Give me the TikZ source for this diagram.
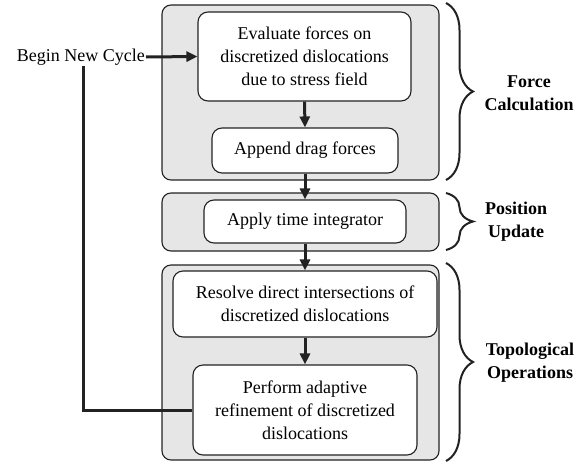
\documentclass[tikz,border=0pt]{standalone}
\usepackage{fontspec}
\setmainfont{Liberation Serif}
\usetikzlibrary{arrows.meta,decorations.pathreplacing}
\definecolor{groupfill}{HTML}{E6E6E7}
\definecolor{edge}{HTML}{222222}
\begin{document}
\begin{tikzpicture}[x=1pt,y=-1pt,
  every node/.style={font=\fontsize{18}{23}\selectfont},
  group/.style={draw=edge,fill=groupfill,line width=1.1pt,rounded corners=9pt,
    inner sep=0pt,minimum width=277pt},
  stepbox/.style={draw=edge,fill=white,line width=1.1pt,rounded corners=10pt,
    align=center,inner sep=0pt},
  flow/.style={draw=edge,line width=3pt,-{Triangle[length=11pt,width=10pt]}},
  loopline/.style={draw=edge,line width=3pt},
  stage/.style={font=\fontsize{18}{23}\selectfont\bfseries,align=center},
  bracket/.style={draw=edge,line width=2pt,decorate,
    decoration={brace,amplitude=27pt,aspect=0.5}}]
\useasboundingbox (0,0) rectangle (585,463);

% stage backgrounds
\node[group,minimum height=175pt] (g1) at (300.5,92.5) {};
\node[group,minimum height=58pt] (g2) at (300.5,222) {};
\node[group,minimum height=195pt] (g3) at (300.5,362.5) {};

% steps
\node[stepbox,minimum width=213pt,minimum height=89pt] (b1) at (304.5,56.5)
  {Evaluate forces on\\discretized dislocations\\due to stress field};
\node[stepbox,minimum width=186pt,minimum height=45pt] (b2) at (305,150.5)
  {Append drag forces};
\node[stepbox,minimum width=202pt,minimum height=43pt] (b3) at (305,221.5)
  {Apply time integrator};
\node[stepbox,minimum width=264pt,minimum height=66pt] (b4) at (305,304)
  {Resolve direct intersections of\\discretized dislocations};
\node[stepbox,minimum width=224pt,minimum height=90pt] (b5) at (305,410)
  {Perform adaptive\\refinement of discretized\\dislocations};

% entry point and loop back
\node[anchor=east,inner sep=1pt] (begin) at (146,57) {Begin New Cycle};
\coordinate (loop) at (83,66);
\draw[flow] (begin.east) -- (b1.west);
\draw[loopline] (loop) -- (loop |- b5.west) -- (b5.west);

% flow between steps
\draw[flow] (b1.south) -- (b2.north);
\draw[flow] (b2.south) -- (b3.north);
\draw[flow] (b3.south) -- (b4.north);
\draw[flow] (b4.south) -- (b5.north);

% stage braces and labels
\coordinate (t1) at (446,3);   \coordinate (e1) at (446,180);
\coordinate (t2) at (446,193); \coordinate (e2) at (446,250);
\coordinate (t3) at (446,263); \coordinate (e3) at (446,461);
\draw[bracket] (t1) -- (e1);
\draw[bracket] (t2) -- (e2);
\draw[bracket] (t3) -- (e3);
\node[stage] (l1) at (529,93) {Force\\Calculation};
\node[stage] (l2) at (516,222) {Position\\Update};
\node[stage] (l3) at (530,363) {Topological\\Operations};
\end{tikzpicture}
\end{document}
